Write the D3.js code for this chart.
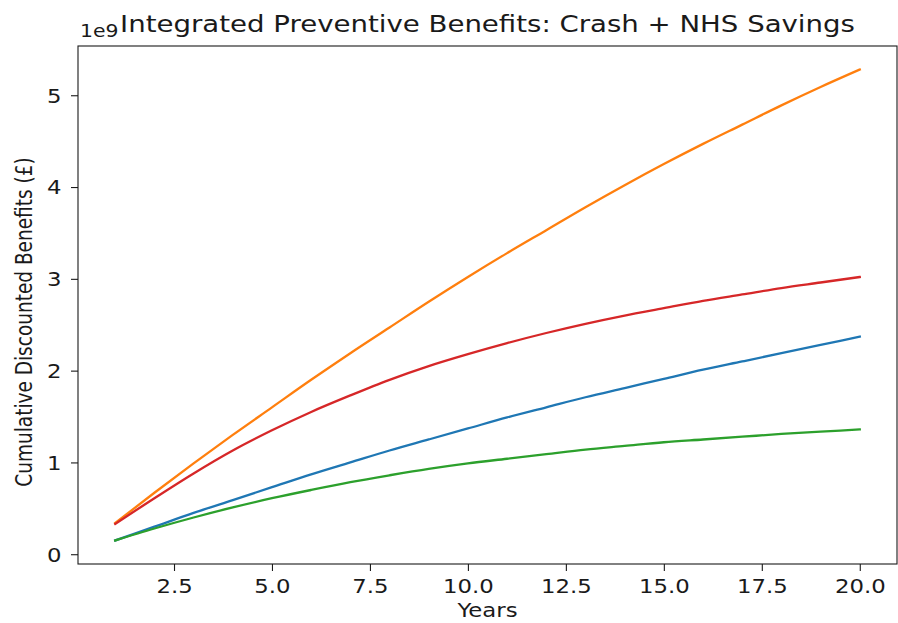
<!DOCTYPE html>
<html>
<head>
<meta charset="utf-8">
<script src="https://cdn.jsdelivr.net/npm/d3@7"></script>
<style>
  body { margin: 0; background: #fff; }
  text { font-family: "DejaVu Sans", sans-serif; fill: #1a1a1a; }
</style>
</head>
<body>
<script>
// data (values in units of 1e9 GBP)
var YEARS = [1, 2, 3, 4, 5, 6, 7, 8, 9, 10, 11, 12, 13, 14, 15, 16, 17, 18, 19, 20];
var SERIES_BLUE = [0.15, 0.30, 0.45, 0.59, 0.73, 0.87, 1.00, 1.13, 1.25, 1.37, 1.49, 1.60, 1.71, 1.81, 1.91, 2.01, 2.10, 2.19, 2.28, 2.37];
var SERIES_ORANGE = [0.34, 0.67, 0.99, 1.30, 1.60, 1.90, 2.19, 2.47, 2.75, 3.02, 3.28, 3.53, 3.78, 4.02, 4.25, 4.47, 4.68, 4.89, 5.09, 5.28];
var SERIES_GREEN = [0.15, 0.28, 0.40, 0.51, 0.61, 0.70, 0.785, 0.86, 0.93, 0.99, 1.04, 1.09, 1.14, 1.18, 1.22, 1.25, 1.28, 1.31, 1.335, 1.36];
var SERIES_RED = [0.33, 0.61, 0.88, 1.13, 1.35, 1.55, 1.73, 1.90, 2.05, 2.18, 2.30, 2.41, 2.51, 2.60, 2.68, 2.76, 2.83, 2.90, 2.96, 3.02];
var X_TICKS = [2.5, 5.0, 7.5, 10.0, 12.5, 15.0, 17.5, 20.0];
var Y_TICKS = [0, 1, 2, 3, 4, 5];

var COLORS = ["#1f77b4", "#ff7f0e", "#2ca02c", "#d62728"];
var ALL = [SERIES_BLUE, SERIES_ORANGE, SERIES_GREEN, SERIES_RED];

var W = 898, H = 623;
var M = {top: 46, right: 1, bottom: 59, left: 78};
var SX = 1.2; // text in the picture is a bit wider than it is tall

var svg = d3.select("body").append("svg").attr("width", W).attr("height", H);

// matplotlib style 5% margins
var xPad = (20 - 1) * 0.05;
var yMin = d3.min(ALL, function (s) { return d3.min(s); });
var yMax = d3.max(ALL, function (s) { return d3.max(s); });
var yPad = (yMax - yMin) * 0.05;

var xScale = d3.scaleLinear().domain([1 - xPad, 20 + xPad]).range([M.left, W - M.right]);
var yScale = d3.scaleLinear().domain([yMin - yPad, yMax + yPad]).range([H - M.bottom, M.top]);

// lines
var line = d3.line()
    .curve(d3.curveMonotoneX)
    .x(function (d, i) { return xScale(YEARS[i]); })
    .y(function (d) { return yScale(d); });

ALL.forEach(function (s, i) {
    svg.append("path")
        .datum(s)
        .attr("fill", "none")
        .attr("stroke", COLORS[i])
        .attr("stroke-width", 2.3)
        .attr("stroke-linejoin", "round")
        .attr("stroke-linecap", "square")
        .attr("d", line);
});

// axes
var xAxis = d3.axisBottom(xScale).tickValues(X_TICKS).tickFormat(d3.format(".1f")).tickSize(7);
var yAxis = d3.axisLeft(yScale).tickValues(Y_TICKS).tickFormat(d3.format("d")).tickSize(7);

var gx = svg.append("g").attr("transform", "translate(0," + (H - M.bottom) + ")").call(xAxis);
var gy = svg.append("g").attr("transform", "translate(" + M.left + ",0)").call(yAxis);
[gx, gy].forEach(function (g) {
    g.select(".domain").remove();
    g.selectAll(".tick line").attr("stroke", "#1a1a1a").attr("stroke-width", 1.1);
    g.selectAll(".tick text").style("font-size", "19px").attr("fill", "#1a1a1a")
        .attr("x", 0).attr("y", 0);
});
gx.selectAll(".tick text").attr("dy", null)
    .attr("transform", "translate(0,29) scale(" + SX + ",1)");
gy.selectAll(".tick text").attr("dy", "0.36em")
    .attr("transform", "translate(-16.5,0) scale(" + SX + ",1)");

// frame
svg.append("rect")
    .attr("x", M.left).attr("y", M.top)
    .attr("width", W - M.right - M.left).attr("height", H - M.bottom - M.top)
    .attr("fill", "none").attr("stroke", "#1a1a1a").attr("stroke-width", 1.1);

// labels
function label(x, y, size, anchor, str, rot) {
    return svg.append("text")
        .attr("transform", "translate(" + x + "," + y + ") scale(" + SX + ",1)" + (rot ? " rotate(" + rot + ")" : ""))
        .attr("text-anchor", anchor)
        .style("font-size", size + "px")
        .text(str);
}

label((M.left + W - M.right) / 2, 32, 23, "middle", "Integrated Preventive Benefits: Crash + NHS Savings");
label(80, 37, 17, "start", "1e9");
label((M.left + W - M.right) / 2, 617, 19, "middle", "Years");
label(32, 322, 18.5, "middle", "Cumulative Discounted Benefits (£)", -90);
</script>
</body>
</html>
